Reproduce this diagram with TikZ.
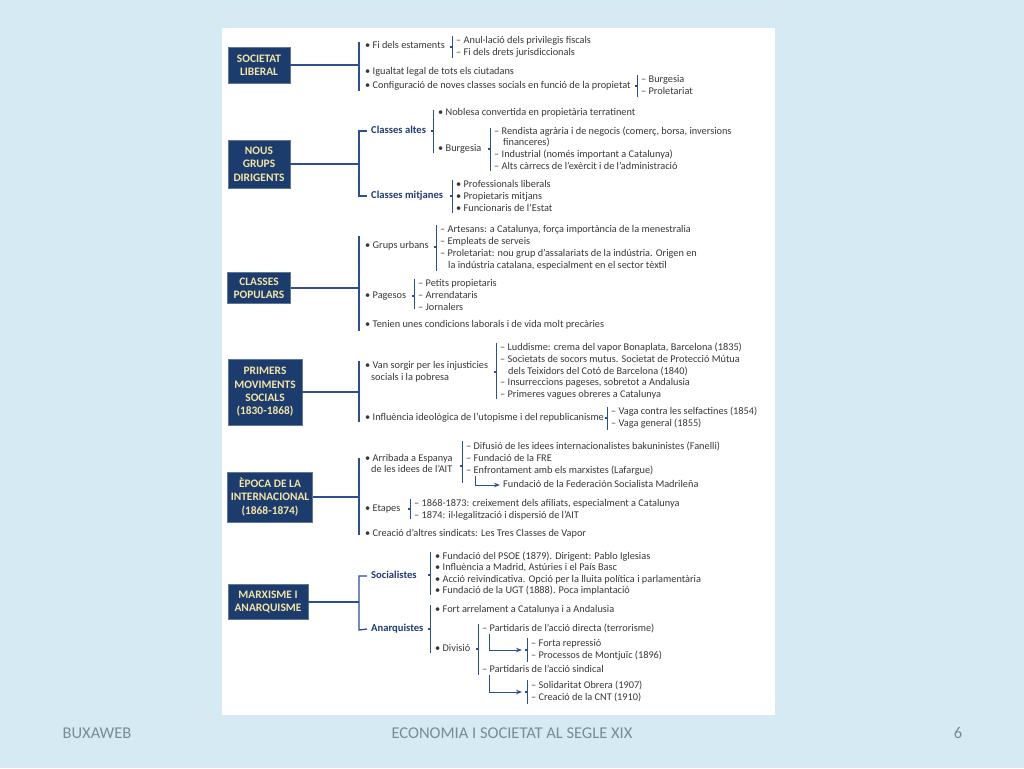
\documentclass[tikz,border=0pt]{standalone}
\usepackage{fontspec}
\setmainfont{Carlito}
\usetikzlibrary{arrows.meta}
\definecolor{bgc}{HTML}{D6EAF3}
\definecolor{navy}{HTML}{1D3C6E}
\definecolor{cream}{HTML}{F4E4A6}
\definecolor{lnc}{HTML}{2E4F8F}
\definecolor{txtc}{HTML}{383838}
\definecolor{hdc}{HTML}{1F3C73}
\definecolor{footc}{HTML}{7A8B98}
\newcommand\fs{\fontsize{10.3}{12}\selectfont}
\tikzset{
  t/.style={anchor=west, inner sep=0pt, font=\fs, text=txtc, text height=7pt, text depth=2pt},
  hd/.style={anchor=west, inner sep=0pt, font=\fontsize{10.6}{12}\selectfont\bfseries, text=hdc, text height=7pt, text depth=2pt},
  box/.style={fill=navy, draw=navy!70!white, line width=0.6pt, text=cream, font=\fontsize{11.4}{13.3}\selectfont\bfseries, align=center, inner sep=0pt},
  conn/.style={draw=lnc, line width=1.3pt},
  brk/.style={draw=lnc, line width=0.9pt},
  tick/.style={draw=lnc, line width=1.6pt},
  arr/.style={draw=lnc, line width=0.9pt, -{Stealth[length=6pt,width=4.5pt]}},
  foot/.style={font=\fontsize{16.5}{18}\selectfont, text=footc, inner sep=0pt}
}
\newcommand\brkt[4]{\draw[brk] (#1,#2) -- (#1,#3); \draw[tick] (#1-2.2,#4) -- (#1,#4);}
\begin{document}
\begin{tikzpicture}[x=1pt,y=-1pt]
\useasboundingbox (0,0) rectangle (1024,768);
\fill[bgc] (0,0) rectangle (1024,768);
\fill[white] (222,28) rectangle (775,715);

% ---------- Section 1
\node[box, minimum width=62pt, minimum height=36pt] (b1) at (259,65) {SOCIETAT\\LIBERAL};
\coordinate (v1) at (359,65);
\draw[conn] (b1.east) -- (v1);
\draw[conn] (359,42) -- (359,91);
\node[t] (s1a) at (365,46) {• Fi dels estaments};
\brkt{452}{36}{58}{47}
\node[t] (s1a1) at (456,41) {– Anul·lació dels privilegis fiscals};
\node[t] (s1a2) at (456,53) {– Fi dels drets jurisdiccionals};
\node[t] (s1b) at (365,72) {• Igualtat legal de tots els ciutadans};
\node[t] (s1c) at (365,86) {• Configuració de noves classes socials en funció de la propietat};
\brkt{637}{75}{97}{86}
\node[t] (s1c1) at (641,80) {– Burgesia};
\node[t] (s1c2) at (641,92) {– Proletariat};

% ---------- Section 2
\node[box, minimum width=62pt, minimum height=48pt] (b2) at (259,164) {NOUS\\GRUPS\\DIRIGENTS};
\coordinate (v2) at (359,164);
\draw[conn] (b2.east) -- (v2);
\node[hd] (ca) at (371,131) {Classes altes};
\node[hd] (cm) at (371,196) {Classes mitjanes};
\draw[conn] ([xshift=-4pt]ca.west) -- (359,131) -- (359,196) -- ([xshift=-4pt]cm.west);
\brkt{433}{110}{153}{131}
\node[t] (s2a) at (438,113) {• Noblesa convertida en propietària terratinent};
\node[t] (s2b) at (438,149) {• Burgesia};
\brkt{490}{128}{171}{149}
\node[t] (s2b1) at (494,132) {– Rendista agrària i de negocis (comerç, borsa, inversions};
\node[t] (s2b1b) at (503,143) {financeres)};
\node[t] (s2b2) at (494,155) {– Industrial (només important a Catalunya)};
\node[t] (s2b3) at (494,167) {– Alts càrrecs de l'exèrcit i de l'administració};
\brkt{452}{180}{213}{196}
\node[t] (s2c1) at (456,185) {• Professionals liberals};
\node[t] (s2c2) at (456,197) {• Propietaris mitjans};
\node[t] (s2c3) at (456,209) {• Funcionaris de l'Estat};

% ---------- Section 3
\node[box, minimum width=63pt, minimum height=31pt] (b3) at (259,288) {CLASSES\\POPULARS};
\coordinate (v3) at (359,288);
\draw[conn] (b3.east) -- (v3);
\draw[conn] (359,236) -- (359,331);
\node[t] (s3a) at (365,246) {• Grups urbans};
\brkt{436}{225}{271}{247}
\node[t] (s3a1) at (440,230) {– Artesans: a Catalunya, força importància de la menestralia};
\node[t] (s3a2) at (440,242) {– Empleats de serveis};
\node[t] (s3a3) at (440,254) {– Proletariat: nou grup d'assalariats de la indústria. Origen en};
\node[t] (s3a3b) at (448,266) {la indústria catalana, especialment en el sector tèxtil};
\node[t] (s3b) at (365,296) {• Pagesos};
\brkt{414}{279}{309}{296}
\node[t] (s3b1) at (418,284) {– Petits propietaris};
\node[t] (s3b2) at (418,296) {– Arrendataris};
\node[t] (s3b3) at (418,308) {– Jornalers};
\node[t] (s3c) at (365,325) {• Tenien unes condicions laborals i de vida molt precàries};

% ---------- Section 4
\node[box, minimum width=74pt, minimum height=66pt] (b4) at (265,392) {PRIMERS\\MOVIMENTS\\SOCIALS\\(1830-1868)};
\coordinate (v4) at (359,392);
\draw[conn] (b4.east) -- (v4);
\draw[conn] (359,361) -- (359,422);
\node[t] (s4a) at (365,366) {• Van sorgir per les injusticies};
\node[t] (s4ab) at (371,378) {socials i la pobresa};
\brkt{496}{343}{399}{372}
\node[t] (s4a1) at (500,348) {– Luddisme: crema del vapor Bonaplata, Barcelona (1835)};
\node[t] (s4a2) at (500,360) {– Societats de socors mutus. Societat de Protecció Mútua};
\node[t] (s4a2b) at (508,372) {dels Teixidors del Cotó de Barcelona (1840)};
\node[t] (s4a3) at (500,383) {– Insurreccions pageses, sobretot a Andalusia};
\node[t] (s4a4) at (500,395) {– Primeres vagues obreres a Catalunya};
\node[t] (s4b) at (365,418) {• Influència ideològica de l'utopisme i del republicanisme};
\brkt{607}{407}{430}{418}
\node[t] (s4b1) at (611,412) {– Vaga contra les selfactines (1854)};
\node[t] (s4b2) at (611,424) {– Vaga general (1855)};

% ---------- Section 5
\node[box, minimum width=85pt, minimum height=50pt] (b5) at (270,497) {ÈPOCA DE LA\\INTERNACIONAL\\(1868-1874)};
\coordinate (v5) at (359,497);
\draw[conn] (b5.east) -- (v5);
\draw[conn] (359,458) -- (359,535);
\node[t] (s5a) at (365,459) {• Arribada a Espanya};
\node[t] (s5ab) at (371,470) {de les idees de l'AIT};
\brkt{462}{441}{483}{466}
\node[t] (s5a1) at (466,447) {– Difusió de les idees internacionalistes bakuninistes (Fanelli)};
\node[t] (s5a2) at (466,459) {– Fundació de la FRE};
\node[t] (s5a3) at (466,471) {– Enfrontament amb els marxistes (Lafargue)};
\node[t] (s5a4) at (503,485) {Fundació de la Federación Socialista Madrileña};
\coordinate (a5) at (475,476);
\draw[arr] (a5) |- ([xshift=-3pt]s5a4.west);
\node[t] (s5b) at (365,509) {• Etapes};
\brkt{410}{499}{519}{509}
\node[t] (s5b1) at (414,504) {– 1868-1873: creixement dels afiliats, especialment a Catalunya};
\node[t] (s5b2) at (414,516) {– 1874: il·legalització i dispersió de l'AIT};
\node[t] (s5c) at (365,534) {• Creació d'altres sindicats: Les Tres Classes de Vapor};

% ---------- Section 6
\node[box, minimum width=80pt, minimum height=35pt] (b6) at (268,602) {MARXISME I\\ANARQUISME};
\coordinate (v6) at (359,602);
\draw[conn] (b6.east) -- (v6);
\node[hd] (so) at (371,576) {Socialistes};
\node[hd] (an) at (371,629) {Anarquistes};
\draw[conn] ([xshift=-4pt]so.west) -- (359,576) -- (359,630) -- ([xshift=-4pt]an.west);
\brkt{430}{552}{595}{575}
\node[t] (s6a1) at (435,557) {• Fundació del PSOE (1879). Dirigent: Pablo Iglesias};
\node[t] (s6a2) at (435,568) {• Influència a Madrid, Astúries i el País Basc};
\node[t] (s6a3) at (435,580) {• Acció reivindicativa. Opció per la lluita política i parlamentària};
\node[t] (s6a4) at (435,591) {• Fundació de la UGT (1888). Poca implantació};
\brkt{430}{605}{653}{629}
\node[t] (s6b1) at (435,610) {• Fort arrelament a Catalunya i a Andalusia};
\node[t] (s6b2) at (435,649) {• Divisió};
\brkt{478}{624}{675}{649}
\node[t] (s6c1) at (482,629) {– Partidaris de l'acció directa (terrorisme)};
\node[t] (s6c2) at (482,670) {– Partidaris de l'acció sindical};
\brkt{527}{638}{662}{650}
\node[t] (s6d1) at (531,644) {– Forta repressió};
\node[t] (s6d2) at (531,656) {– Processos de Montjuïc (1896)};
\coordinate (a6a) at (489,634);
\coordinate (e6a) at (522,650);
\draw[arr] (a6a) |- (e6a);
\brkt{527}{680}{704}{692}
\node[t] (s6e1) at (531,686) {– Solidaritat Obrera (1907)};
\node[t] (s6e2) at (531,698) {– Creació de la CNT (1910)};
\coordinate (a6b) at (489,675);
\coordinate (e6b) at (522,692);
\draw[arr] (a6b) |- (e6b);

% ---------- Footer
\node[foot] (f1) at (97,733) {BUXAWEB};
\node[foot] (f2) at (512,733) {ECONOMIA I SOCIETAT AL SEGLE XIX};
\node[foot] (f3) at (958,733) {6};
\end{tikzpicture}
\end{document}
